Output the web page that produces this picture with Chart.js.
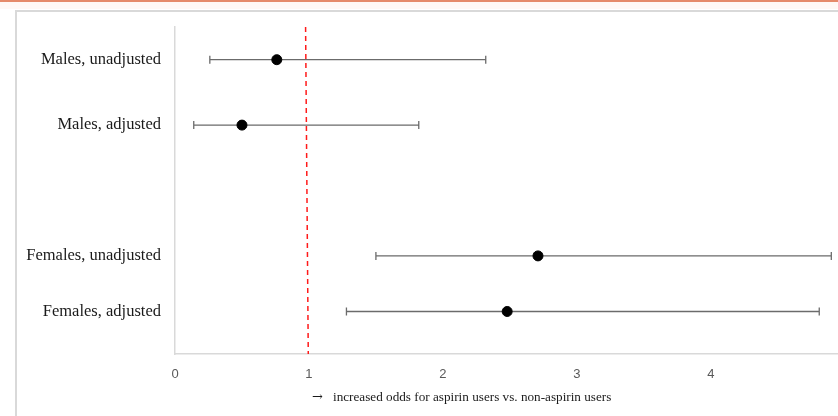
<!DOCTYPE html>
<html>
<head>
<meta charset="utf-8">
<script src="https://cdn.jsdelivr.net/npm/chart.js@4/dist/chart.umd.min.js"></script>
<style>
  html, body { margin: 0; padding: 0; background: #fff; }
  #wrap { position: absolute; left: 0; top: 0; width: 838px; height: 416px; }
</style>
</head>
<body>
<div id="wrap"><canvas id="forest" width="838" height="416"></canvas></div>
<script>
// rows of the forest plot (top to bottom)
var labels = ['Males, unadjusted', 'Males, adjusted', 'Females, unadjusted', 'Females, adjusted'];
var rowPos = [4.5, 3.5, 1.5, 0.65];
var oddsRatio = [0.76, 0.50, 2.71, 2.48];
var ciLow = [0.26, 0.14, 1.50, 1.28];
var ciHigh = [2.32, 1.82, 4.90, 4.81];
var xTicks = [0, 1, 2, 3, 4];
var refLine = [{ x: 0.975, y: 5 }, { x: 0.995, y: 0 }];
var xTitle = 'increased odds for aspirin users vs. non-aspirin users';

var points = oddsRatio.map(function (v, i) { return { x: v, y: rowPos[i] }; });

var framePlugin = {
    id: 'frame',
    beforeDraw: function (chart) {
        var ctx = chart.ctx;
        ctx.save();
        ctx.fillStyle = '#fff8f5';
        ctx.fillRect(0, 0, 838, 9);
        ctx.fillStyle = '#e58a6a';
        ctx.fillRect(0, 0, 838, 2);
        ctx.strokeStyle = '#d9d9d9';
        ctx.lineWidth = 2;
        ctx.beginPath();
        ctx.moveTo(16, 416);
        ctx.lineTo(16, 11);
        ctx.lineTo(838, 11);
        ctx.stroke();
        ctx.restore();
    }
};

var errorBars = {
    id: 'errorBars',
    beforeDatasetsDraw: function (chart) {
        var ctx = chart.ctx, xs = chart.scales.x, ys = chart.scales.y;
        ctx.save();
        ctx.strokeStyle = '#6b6b6b';
        ctx.lineWidth = 1.3;
        for (var i = 0; i < labels.length; i++) {
            var y = ys.getPixelForValue(rowPos[i]);
            var x0 = xs.getPixelForValue(ciLow[i]);
            var x1 = xs.getPixelForValue(ciHigh[i]);
            ctx.beginPath();
            ctx.moveTo(x0, y); ctx.lineTo(x1, y);
            ctx.moveTo(x0, y - 4); ctx.lineTo(x0, y + 4);
            ctx.moveTo(x1, y - 4); ctx.lineTo(x1, y + 4);
            ctx.stroke();
        }
        ctx.restore();
    }
};

var titlePlugin = {
    id: 'xTitle',
    afterDraw: function (chart) {
        var ctx = chart.ctx;
        ctx.save();
        ctx.fillStyle = '#1a1a1a';
        ctx.textBaseline = 'middle';
        ctx.textAlign = 'left';
        ctx.font = '13px "DejaVu Serif", serif';
        ctx.fillText('\u2192', 312, 398);
        ctx.font = '13.2px "Liberation Serif", serif';
        ctx.fillText(xTitle, 333, 398);
        ctx.restore();
    }
};

new Chart(document.getElementById('forest').getContext('2d'), {
    type: 'scatter',
    data: {
        datasets: [{
            data: points,
            backgroundColor: '#000',
            borderColor: '#000',
            pointRadius: 5,
            pointHoverRadius: 5
        }, {
            type: 'line',
            data: refLine,
            borderColor: '#ff1a1a',
            borderWidth: 1.5,
            borderDash: [5, 4],
            pointRadius: 0,
            fill: false
        }]
    },
    options: {
        responsive: false,
        animation: false,
        devicePixelRatio: 1,
        layout: { autoPadding: false, padding: { top: 27, left: 0, right: 0, bottom: 0 } },
        plugins: {
            legend: { display: false },
            tooltip: { enabled: false }
        },
        scales: {
            x: {
                type: 'linear',
                min: 0,
                max: 4.95,
                afterBuildTicks: function (axis) {
                    axis.ticks = xTicks.map(function (v) { return { value: v }; });
                },
                afterFit: function (axis) {
                    axis.height = 62;
                    axis.paddingLeft = 0;
                    axis.paddingRight = 0;
                },
                grid: { display: false, drawTicks: false },
                border: { color: '#d9d9d9', width: 1.5 },
                ticks: {
                    padding: 13,
                    color: '#595959',
                    font: { family: '"Liberation Sans", sans-serif', size: 13 }
                }
            },
            y: {
                type: 'linear',
                min: 0,
                max: 5,
                afterBuildTicks: function (axis) {
                    axis.ticks = rowPos.map(function (v) { return { value: v }; });
                },
                afterFit: function (axis) { axis.width = 175; },
                grid: { display: false, drawTicks: false },
                border: { color: '#d9d9d9', width: 1.5 },
                ticks: {
                    padding: 14,
                    color: '#1a1a1a',
                    font: { family: '"Liberation Serif", serif', size: 16.5 },
                    callback: function (value) {
                        var i = rowPos.indexOf(value);
                        return i >= 0 ? labels[i] : '';
                    }
                }
            }
        }
    },
    plugins: [framePlugin, errorBars, titlePlugin]
});
</script>
</body>
</html>
